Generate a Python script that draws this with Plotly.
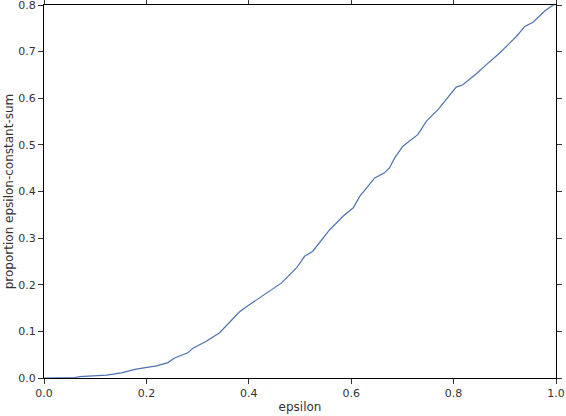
import plotly.graph_objects as go

# values
epsilon = [0.0, 0.03, 0.06, 0.07, 0.122, 0.151, 0.18, 0.22, 0.242, 0.255, 0.281, 0.291,
           0.317, 0.343, 0.363, 0.381, 0.389, 0.434, 0.464, 0.493, 0.509, 0.525, 0.558,
           0.584, 0.604, 0.617, 0.646, 0.665, 0.675, 0.685, 0.701, 0.730, 0.747, 0.77,
           0.805, 0.818, 0.845, 0.864, 0.89, 0.923, 0.939, 0.955, 0.978, 0.993, 1.0]
proportion = [0.0, 0.001, 0.001, 0.003, 0.006, 0.011, 0.019, 0.026, 0.033, 0.043, 0.054, 0.064,
              0.079, 0.097, 0.121, 0.141, 0.148, 0.182, 0.204, 0.236, 0.261, 0.272, 0.318,
              0.347, 0.365, 0.390, 0.429, 0.440, 0.451, 0.472, 0.497, 0.522, 0.551, 0.576,
              0.624, 0.629, 0.653, 0.672, 0.697, 0.733, 0.754, 0.763, 0.787, 0.799, 0.802]

x_ticks = [0.0, 0.2, 0.4, 0.6, 0.8, 1.0]
y_ticks = [0.0, 0.1, 0.2, 0.3, 0.4, 0.5, 0.6, 0.7, 0.8]

fig = go.Figure()
fig.add_trace(go.Scatter(
    x=epsilon, y=proportion,
    mode='lines',
    line=dict(color='#4C72B0', width=1.2),
    showlegend=False))

axis_style = dict(
    showgrid=False, zeroline=False, automargin=False,
    showline=True, linecolor='black', linewidth=1, mirror='allticks',
    ticks='outside', ticklen=5, tickwidth=1, tickcolor='#333',
    ticklabeloverflow='allow',
    tickfont=dict(family='DejaVu Sans', size=11, color='#333'),
)

fig.update_layout(
    width=566, height=416,
    margin=dict(l=44, r=10, t=5, b=38),
    paper_bgcolor='white', plot_bgcolor='white',
    font=dict(family='DejaVu Sans', color='#333'),
    xaxis=dict(axis_style, range=[0, 1], tickvals=x_ticks,
               ticktext=[f'{v:.1f}' for v in x_ticks],
               title=dict(text='epsilon', font=dict(size=12), standoff=3)),
    yaxis=dict(axis_style, range=[0, 0.8], tickvals=y_ticks,
               ticktext=[f'{v:.1f}' for v in y_ticks],
               title=dict(text='proportion epsilon-constant-sum', font=dict(size=12), standoff=2)),
)

# page body has a default 8px margin; drop it so the figure fills the window
fig.write_html("out.html", config={'displayModeBar': False},
               post_script="document.body.style.margin='0';")
